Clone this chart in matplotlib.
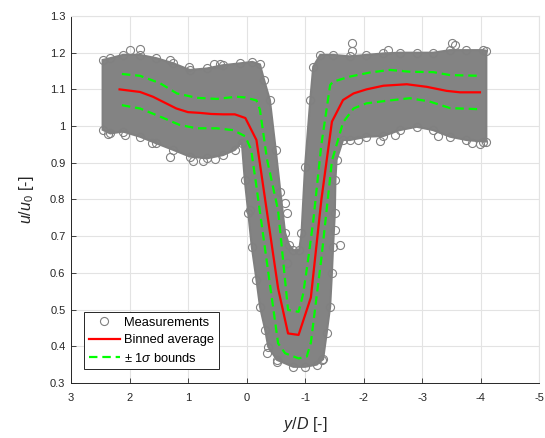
import matplotlib
import numpy as np

matplotlib.use("Agg")
import matplotlib.pyplot as plt


cloud_top_x = [2.46, 2.33, 2.11, 1.82, 1.54, 1.25, 0.97, 0.68, 0.40, 0.11, -0.10, -0.23,
               -0.30, -0.40, -0.50, -0.58, -0.66, -0.73, -0.80, -0.90, -0.94, -1.00,
               -1.09, -1.14, -1.26, -1.48, -1.77, -2.05, -2.34, -2.62, -2.91, -3.19,
               -3.48, -3.76, -4.05, -4.10]
cloud_top_y = [1.180, 1.185, 1.194, 1.194, 1.185, 1.171, 1.153, 1.157, 1.166, 1.171, 1.175,
               1.168, 1.126, 1.071, 0.935, 0.820, 0.709, 0.676, 0.662, 0.662, 0.708, 0.889,
               1.071, 1.162, 1.194, 1.194, 1.190, 1.194, 1.198, 1.200, 1.200, 1.200,
               1.207, 1.207, 1.207, 1.205]
cloud_bottom_x = [2.46, 2.33, 2.11, 1.82, 1.54, 1.25, 0.97, 0.68, 0.40, 0.20, 0.08, 0.03,
                  -0.03, -0.09, -0.17, -0.23, -0.32, -0.37, -0.52, -0.80, -1.00, -1.20,
                  -1.31, -1.37, -1.43, -1.46, -1.48, -1.51, -1.52, -1.54, -1.65, -1.77,
                  -2.05, -2.34, -2.62, -2.91, -3.19, -3.48, -3.76, -4.05, -4.10]
cloud_bottom_y = [0.990, 0.980, 0.985, 0.971, 0.953, 0.935, 0.917, 0.912, 0.921, 0.935,
                  0.955, 0.853, 0.763, 0.671, 0.581, 0.508, 0.444, 0.399, 0.363, 0.344,
                  0.344, 0.350, 0.365, 0.435, 0.508, 0.599, 0.671, 0.762, 0.853, 0.908,
                  0.962, 0.962, 0.971, 0.973, 0.989, 0.998, 0.989, 0.971, 0.962, 0.958,
                  0.958]
# single circles standing out of the band
stray_x = [2.00, 1.82, 1.30, 0.99, 0.55, 0.45, 2.36, 2.08, 1.62, 1.31, 0.91, 0.75, 0.54,
           -1.80, -1.80, -2.42, -3.51, -3.56, -1.91, -2.28, -2.54, -3.28, -3.85, -3.99,
           -0.69, -0.66, -0.69, -0.35, -0.52, -0.06, -1.60, -1.51, -1.29]
stray_y = [1.207, 1.210, 1.180, 1.160, 1.170, 1.168, 0.978, 0.975, 0.955, 0.915, 0.905,
           0.905, 0.910, 1.226, 1.205, 1.207, 1.226, 1.220, 0.962, 0.960, 0.975, 0.972,
           0.955, 0.950, 0.762, 0.790, 0.626, 0.381, 0.358, 0.771, 0.676, 0.717, 0.363]

# binned average and +/- 1 sigma bounds
avg_x = [2.17, 1.82, 1.60, 1.40, 1.20, 1.00, 0.80, 0.60, 0.40, 0.20, 0.02, -0.17, -0.54,
         -0.71, -0.89, -1.10, -1.28, -1.46, -1.65, -1.83, -2.05, -2.34, -2.74, -3.08,
         -3.42, -3.65, -3.99]
avg_y = [1.100, 1.093, 1.080, 1.064, 1.048, 1.038, 1.036, 1.033, 1.032, 1.032, 1.022, 0.962,
         0.558, 0.435, 0.431, 0.533, 0.800, 1.012, 1.071, 1.089, 1.100, 1.110, 1.114, 1.107,
         1.096, 1.092, 1.092]
upper_x = [2.13, 1.82, 1.48, 1.19, 0.85, 0.51, 0.17, 0.02, -0.17, -0.23, -0.35, -0.54,
           -0.71, -0.89, -0.97, -1.06, -1.14, -1.28, -1.43, -1.48, -1.77, -2.11, -2.45,
           -2.80, -3.19, -3.48, -3.99]
upper_y = [1.142, 1.137, 1.117, 1.089, 1.077, 1.074, 1.080, 1.078, 1.070, 1.044, 0.910,
           0.770, 0.499, 0.494, 0.544, 0.644, 0.740, 0.950, 1.112, 1.121, 1.135, 1.146,
           1.153, 1.148, 1.147, 1.139, 1.137]
lower_x = [2.13, 1.82, 1.48, 1.14, 0.85, 0.51, 0.23, 0.02, -0.08, -0.17, -0.54, -0.66,
           -0.89, -1.03, -1.10, -1.28, -1.46, -1.65, -1.83, -2.05, -2.40, -2.79, -3.13,
           -3.48, -3.99]
lower_y = [1.057, 1.048, 1.026, 1.003, 0.994, 0.994, 0.989, 0.972, 0.935, 0.835, 0.408,
           0.381, 0.367, 0.372, 0.410, 0.640, 0.905, 1.010, 1.048, 1.062, 1.069, 1.076,
           1.067, 1.049, 1.046]

x_ticks = [3, 2, 1, 0, -1, -2, -3, -4, -5]
y_ticks = [0.3, 0.4, 0.5, 0.6, 0.7, 0.8, 0.9, 1.0, 1.1, 1.2, 1.3]

GREY = "#808080"
INK = "#262626"
GRID = "#e3e3e3"

plt.rcParams["font.family"] = ["Liberation Sans", "DejaVu Sans"]
plt.rcParams["mathtext.fontset"] = "custom"
plt.rcParams["mathtext.rm"] = "Liberation Sans"
plt.rcParams["mathtext.it"] = "Liberation Sans:italic"
plt.rcParams["axes.unicode_minus"] = False

fig = plt.figure(figsize=(5.45, 4.38), dpi=100)
ax = fig.add_axes([0.1303, 0.1256, 0.8587, 0.8379])

poly_x = np.r_[cloud_top_x, cloud_bottom_x[::-1]]
poly_y = np.r_[cloud_top_y, cloud_bottom_y[::-1]]
ax.fill(poly_x, poly_y, facecolor="#838383", edgecolor=GREY, lw=1.5, zorder=2)
ax.plot(cloud_top_x + cloud_bottom_x + stray_x, cloud_top_y + cloud_bottom_y + stray_y,
        "o", mfc="none", mec=GREY, ms=5.8, mew=0.8, zorder=3, label="Measurements")

ax.plot(avg_x, avg_y, color="#ff0000", lw=1.6, zorder=5, label="Binned average")
ax.plot(upper_x, upper_y, color="#00ff00", lw=1.6, dashes=(3.8, 2.2), zorder=4,
        label=r"$\pm$ 1$\sigma$ bounds")
ax.plot(lower_x, lower_y, color="#00ff00", lw=1.6, dashes=(3.8, 2.2), zorder=4)

ax.set_xlim(3, -5)
ax.set_ylim(0.3, 1.3)
ax.set_xticks(x_ticks, [f"{t:g}" for t in x_ticks])
ax.set_yticks(y_ticks, [f"{t:g}" for t in y_ticks])
ax.tick_params(direction="in", length=3.5, width=0.6, color=INK, labelcolor=INK,
               labelsize=8)
ax.tick_params(axis="x", pad=7)
ax.tick_params(axis="y", pad=4)
ax.grid(True, color=GRID, lw=0.8)
ax.set_axisbelow(True)
for side in ("top", "right"):
    ax.spines[side].set_color(GRID)
    ax.spines[side].set_linewidth(0.8)
for side in ("left", "bottom"):
    ax.spines[side].set_color(INK)
    ax.spines[side].set_linewidth(0.7)

ax.set_xlabel(r"$y/D$ [-]", fontsize=11.5, color=INK, labelpad=9)
ax.set_ylabel(r"$u/u_\mathit{0}$ [-]", fontsize=11.5, color=INK, labelpad=10)

leg = ax.legend(loc="lower left", bbox_to_anchor=(0.028, 0.037), fontsize=9.3,
                frameon=True, fancybox=False, edgecolor=INK, framealpha=1,
                handlelength=2.45, handletextpad=0.3, labelspacing=0.42,
                borderpad=0.35, borderaxespad=0, numpoints=1)
leg.get_frame().set_linewidth(0.7)

fig.savefig("out.png", dpi=100)
